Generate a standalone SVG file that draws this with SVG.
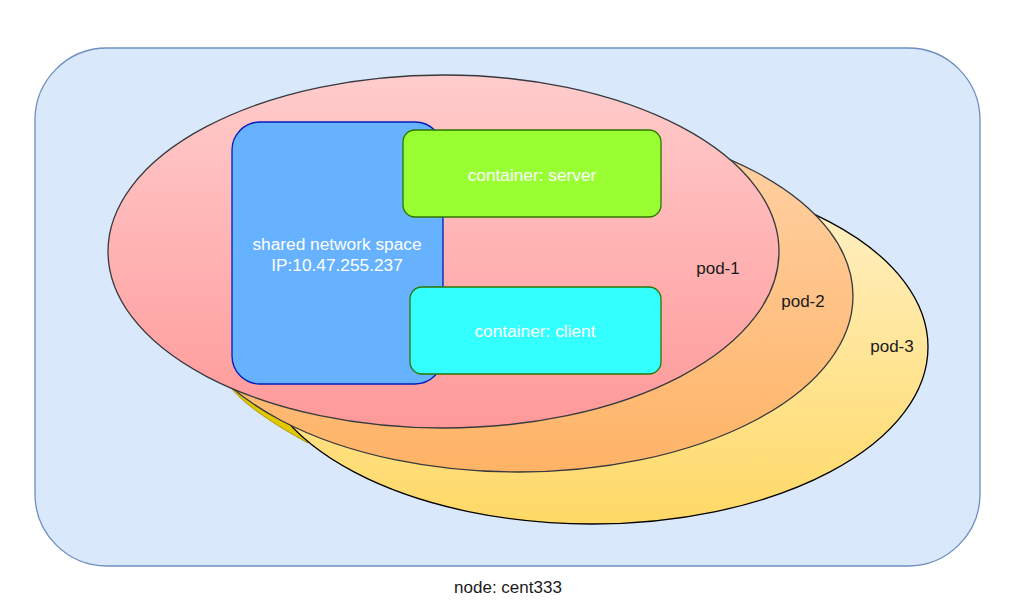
<svg xmlns="http://www.w3.org/2000/svg" width="1012" height="609" viewBox="0 0 1012 609">
<style>
text{font-family:"Liberation Sans",Arial,sans-serif;text-anchor:middle;dominant-baseline:central}
.w{fill:#ffffff;font-size:17.3px}
.d{fill:#1a1a1a;font-size:17px}
.pod{stroke-width:1.3}
</style>
<defs>
<linearGradient id="g1" x1="0" y1="0" x2="0" y2="1"><stop offset="0" stop-color="#ffcccc"/><stop offset="1" stop-color="#ff9999"/></linearGradient>
<linearGradient id="g2" x1="0" y1="0" x2="0" y2="1"><stop offset="0" stop-color="#ffd3a8"/><stop offset="1" stop-color="#ffb366"/></linearGradient>
<linearGradient id="g3" x1="0" y1="0" x2="0" y2="1"><stop offset="0" stop-color="#fff2cc"/><stop offset="1" stop-color="#ffd966"/></linearGradient>
</defs>
<g id="node">
<rect x="35" y="48" width="945" height="518" rx="72" fill="#dae8fc" stroke="#6c8ebf" stroke-width="1.3"/>
<text class="d" x="508" y="587">node: cent333</text>
</g>
<g id="extra">
<path d="M232,389 C245,405 275,425 308,443 L330,420 L262,382 Z" fill="#e3c800" stroke="#b09500" stroke-width="1"/>
</g>
<g id="pod-3">
<ellipse class="pod" cx="592" cy="347" rx="336" ry="177" fill="url(#g3)" stroke="#000000"/>
<text class="d" x="892" y="346">pod-3</text>
</g>
<g id="pod-2">
<ellipse class="pod" cx="518" cy="296" rx="335" ry="176" fill="url(#g2)" stroke="#36393d"/>
<text class="d" x="803" y="301">pod-2</text>
</g>
<g id="pod-1">
<ellipse class="pod" cx="443.5" cy="251.5" rx="335.5" ry="176.5" fill="url(#g1)" stroke="#36393d"/>
<text class="d" x="718" y="268">pod-1</text>
</g>
<g id="network">
<rect x="232" y="122" width="211" height="262" rx="28" fill="#66b2ff" stroke="#001dbc" stroke-width="1.3"/>
<text class="w" x="337" y="244">shared network space</text>
<text class="w" x="337" y="265">IP:10.47.255.237</text>
</g>
<g id="server">
<rect x="403" y="130" width="258" height="87" rx="12" fill="#99ff33" stroke="#2d7600" stroke-width="1.3"/>
<text class="w" x="532" y="175">container: server</text>
</g>
<g id="client">
<rect x="410" y="287" width="251" height="87" rx="12" fill="#33ffff" stroke="#2d7600" stroke-width="1.3"/>
<text class="w" x="535" y="331">container: client</text>
</g>
<g id="connectors"/>
</svg>
